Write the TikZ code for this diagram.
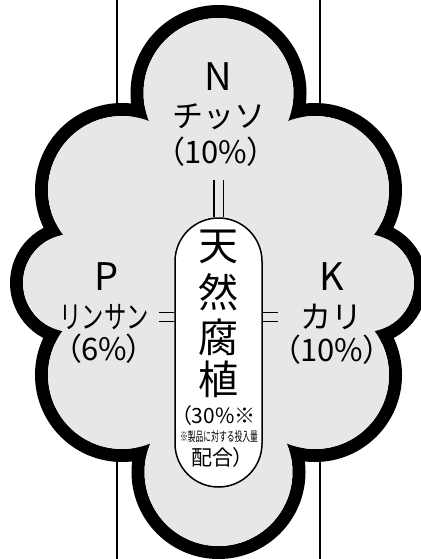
\documentclass[tikz,border=0pt]{standalone}
\usepackage{fontspec}
\newfontfamily\jp{Noto Sans CJK JP}
\newfontfamily\jpp[RawFeature=+palt]{Noto Sans CJK JP}
\definecolor{cloudgray}{HTML}{E6E7E8}
\def\lobes{218.5/93/88, 218.5/472/87, 122/190/87, 315/190/87, 72/283/62, 365/283/62, 122/375/87, 315/375/87}

\begin{document}
\begin{tikzpicture}
	[x=1pt,y=-1pt,
	lbl/.style={inner sep=0pt,font=\jp\fontsize{38}{38}\selectfont},
	kana/.style={inner sep=0pt,font=\jp\fontsize{31}{31}\selectfont},
	pct/.style={inner sep=0pt,font=\jpp\fontsize{31}{31}\selectfont},
	kanji/.style={inner sep=0pt,font=\jp\fontsize{40}{40}\selectfont},
	small/.style={inner sep=0pt,font=\jpp\fontsize{21}{21}\selectfont},
	eqline/.style={draw=black,double=cloudgray,double distance=8pt,line width=1.3pt}]
	\useasboundingbox (0,0) rectangle (420,559);
	% rails behind the cloud
	\draw[line width=1.2pt] (117,0) -- (117,559);
	\draw[line width=1.2pt] (320,0) -- (320,559);
	% cloud: thick outline first, then the grey inside
	\foreach \cx/\cy/\r in \lobes
		\draw[line width=13pt] (\cx,\cy) circle[radius=\r-6.5];
	\foreach \cx/\cy/\r in \lobes
		\fill[cloudgray] (\cx,\cy) circle[radius=\r-13];
	\fill[cloudgray] (218.5,93) -- (315,190) -- (365,283) -- (315,375) -- (218.5,472) -- (122,375) -- (72,283) -- (122,190) -- cycle;
	% capsule
	\node[draw,line width=1.5pt,fill=white,rounded corners=43.5pt,minimum width=87pt,minimum height=269pt,name=humus]at(218.5,352.5){};
	% labels
	\node[lbl,name=nsym]at(218.5,77){N};
	\node[kana,name=nkana]at(218.5,117){チッソ};
	\node[pct,name=npct]at(216,152){（10\%）};
	\node[lbl,name=psym]at(107,277){P};
	\node[kana,name=pkana]at(104,317){\scalebox{0.72}[1]{リンサン}};
	\node[pct,name=ppct]at(104,349){（6\%）};
	\node[lbl,name=ksym]at(332,277){K};
	\node[kana,name=kkana]at(331,317){カリ};
	\node[pct,name=kpct]at(332,350){（10\%）};
	\node[kanji,name=h1]at(218.5,247){天};
	\node[kanji,name=h2]at(218.5,292){然};
	\node[kanji,name=h3]at(218.5,337){腐};
	\node[kanji,name=h4]at(218.5,379){植};
	\node[small,name=h5]at(218.5,416){（30\%※};
	\node[inner sep=0pt,font=\jp\fontsize{13}{13}\selectfont,name=h6]at(219,437){\scalebox{0.6}[1]{※製品に対する投入量}};
	\node[small,name=h7]at(217.5,458){配合）};
	% equal signs
	\draw[eqline,shorten <=13pt] (humus.north |- npct.south) -- (humus.north);
	\draw[eqline,shorten <=10pt] (pkana.east) -- (pkana.east -| humus.west);
	\draw[eqline,shorten >=22pt] (kkana.west -| humus.east) -- (kkana.west);
\end{tikzpicture}
\end{document}
